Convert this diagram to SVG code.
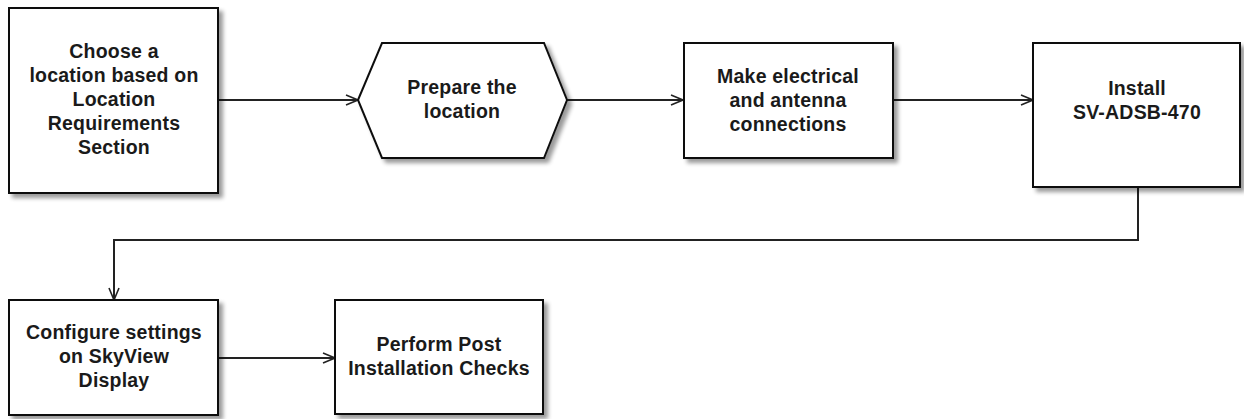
<svg xmlns="http://www.w3.org/2000/svg" width="1244" height="419" viewBox="0 0 1244 419">
<style>
.n{fill:#fff;stroke:#111;stroke-width:2;filter:url(#sh)}
.t{font-family:"Liberation Sans",Arial,sans-serif;font-weight:bold;font-size:19.5px;letter-spacing:0.2px;fill:#1a1a1a;text-anchor:middle}
.c{fill:none;stroke:#222;stroke-width:2;marker-end:url(#ar)}
</style>
<defs>
<filter id="sh" x="-10%" y="-10%" width="130%" height="130%">
<feGaussianBlur in="SourceAlpha" stdDeviation="2"/>
<feOffset dx="4" dy="4" result="b"/>
<feComponentTransfer><feFuncA type="linear" slope="0.4"/></feComponentTransfer>
<feMerge><feMergeNode/><feMergeNode in="SourceGraphic"/></feMerge>
</filter>
<marker id="ar" markerWidth="14" markerHeight="12" refX="13" refY="6" orient="auto" markerUnits="userSpaceOnUse">
<polyline points="1,1 13,6 1,11" fill="none" stroke="#222" stroke-width="1.6"/>
</marker>
</defs>
<g id="connectors">
<path class="c" d="M218,100 H358"/>
<path class="c" d="M567,100 H683"/>
<path class="c" d="M893,100 H1033"/>
<path class="c" d="M1138,187 V240 H114 V300"/>
<path class="c" d="M218,358 H335"/>
</g>
<g id="n1">
<rect class="n" x="9" y="8" width="209" height="185"/>
<text class="t" x="114" y="58">Choose a</text>
<text class="t" x="114" y="82">location based on</text>
<text class="t" x="114" y="106">Location</text>
<text class="t" x="114" y="130">Requirements</text>
<text class="t" x="114" y="154">Section</text>
</g>
<g id="n2">
<polygon class="n" points="358,100 382,43 544,43 567,100 544,158 382,158"/>
<text class="t" x="462" y="94">Prepare the</text>
<text class="t" x="462" y="118">location</text>
</g>
<g id="n3">
<rect class="n" x="684" y="43" width="209" height="115"/>
<text class="t" x="788" y="83">Make electrical</text>
<text class="t" x="788" y="107">and antenna</text>
<text class="t" x="788" y="131">connections</text>
</g>
<g id="n4">
<rect class="n" x="1033" y="43" width="207" height="144"/>
<text class="t" x="1137" y="95">Install</text>
<text class="t" x="1137" y="119">SV-ADSB-470</text>
</g>
<g id="n5">
<rect class="n" x="9" y="300" width="209" height="115"/>
<text class="t" x="114" y="339">Configure settings</text>
<text class="t" x="114" y="363">on SkyView</text>
<text class="t" x="114" y="387">Display</text>
</g>
<g id="n6">
<rect class="n" x="335" y="300" width="208" height="114"/>
<text class="t" x="439" y="351">Perform Post</text>
<text class="t" x="439" y="375">Installation Checks</text>
</g>
</svg>
